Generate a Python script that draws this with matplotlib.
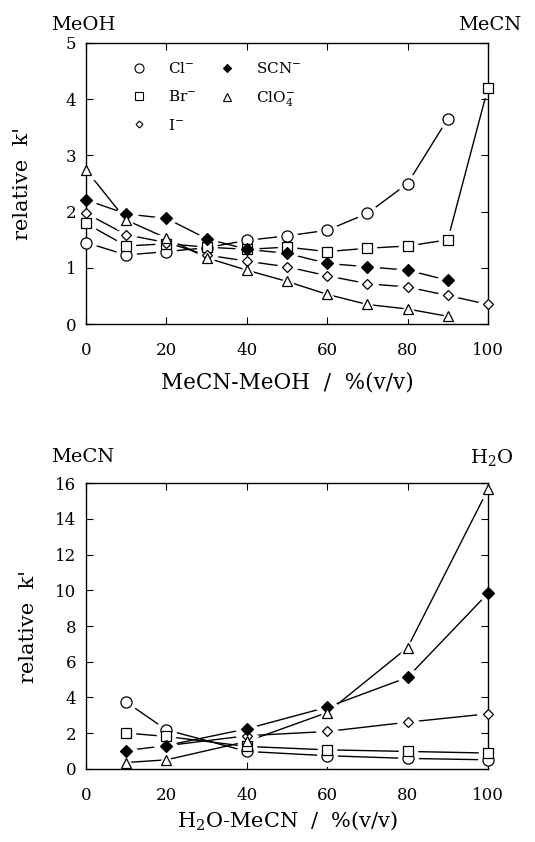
import matplotlib
matplotlib.use("Agg")
import matplotlib.pyplot as plt

plt.rcParams['font.family'] = ['DejaVu Serif']
plt.rcParams['mathtext.fontset'] = 'dejavuserif'

# MeCN-MeOH mixtures (top panel)
x_meoh = [0, 10, 20, 30, 40, 50, 60, 70, 80, 90, 100]
cl_meoh = [1.45, 1.23, 1.29, 1.36, 1.49, 1.57, 1.67, 1.97, 2.50, 3.65]
br_meoh = [1.79, 1.39, 1.43, 1.37, 1.33, 1.37, 1.29, 1.35, 1.39, 1.50, 4.20]
i_meoh = [1.97, 1.59, 1.45, 1.23, 1.12, 1.02, 0.86, 0.72, 0.66, 0.51, 0.35]
scn_meoh = [2.21, 1.96, 1.88, 1.52, 1.33, 1.26, 1.08, 1.02, 0.96, 0.78]
clo4_meoh = [2.74, 1.85, 1.53, 1.18, 0.96, 0.76, 0.53, 0.35, 0.27, 0.14]

# H2O-MeCN mixtures (bottom panel)
x_h2o = [10, 20, 40, 60, 80, 100]
cl_h2o = [3.73, 2.18, 0.97, 0.73, 0.58, 0.50]
br_h2o = [2.00, 1.81, 1.25, 1.06, 0.97, 0.88]
i_h2o = [1.29, 1.85, 2.09, 2.61, 3.08]
scn_h2o = [1.02, 1.30, 2.24, 3.45, 5.12, 9.83]
clo4_h2o = [0.35, 0.50, 1.53, 3.15, 6.79, 15.66]

labels = [r"Cl$^{-}$", r"Br$^{-}$", r"I$^{-}$", r"SCN$^{-}$", r"ClO$_4^{-}$"]
styles = [
    dict(marker='o', ms=8, mfc='white'),
    dict(marker='s', ms=7, mfc='white'),
    dict(marker='D', ms=5, mfc='white'),
    dict(marker='D', ms=6, mfc='black'),
    dict(marker='^', ms=7, mfc='white'),
]


def x_for(xs, ys):
    # the top panel series start at 0%, the bottom iodide run starts at 20%
    if len(ys) == len(xs) or xs[0] != 10:
        return xs[:len(ys)]
    return xs[-len(ys):]


def draw_panel(ax, xs, series, ymax, ystep, ylab_x):
    for ys, st in zip(series, styles):
        xx = x_for(xs, ys)
        ax.plot(xx, ys, color='black', lw=1.0, zorder=1, clip_on=False)
        # white halo so each line stops short of its markers
        ax.plot(xx, ys, ls='none', marker=st['marker'], ms=st['ms'] + 6,
                mfc='white', mec='white', zorder=2, clip_on=False)
    for ys, st in zip(series, styles):
        xx = x_for(xs, ys)
        ax.plot(xx, ys, ls='none', marker=st['marker'], ms=st['ms'],
                mfc=st['mfc'], mec='black', mew=0.9, zorder=3, clip_on=False)
    ax.set_xlim(0, 100)
    ax.set_ylim(0, ymax)
    ax.set_xticks(range(0, 101, 20))
    ax.set_yticks(range(0, ymax + 1, ystep))
    ax.tick_params(direction='in', top=True, right=True, length=5,
                   labelsize=12)
    ax.tick_params(axis='x', pad=13)
    ax.tick_params(axis='y', pad=7)
    ax.set_ylabel("relative  k'", fontsize=15)
    ax.yaxis.set_label_coords(ylab_x, 0.5)
    for sp in ax.spines.values():
        sp.set_linewidth(1.0)


fig = plt.figure(figsize=(5.35, 8.42), dpi=100)

ax1 = fig.add_axes([0.161, 0.615, 0.751, 0.334])
draw_panel(ax1, x_meoh, [cl_meoh, br_meoh, i_meoh, scn_meoh, clo4_meoh], 5, 1,
           -0.135)
ax1.set_xlabel("MeCN-MeOH  /  %(v/v)", fontsize=15.5, labelpad=9)
handles = []
for lab, st in zip(labels, styles):
    h, = ax1.plot([], [], ls='none', marker=st['marker'], ms=st['ms'] - 1.5,
                  mfc=st['mfc'], mec='black', mew=0.8, label=lab)
    handles.append(h)
ax1.legend(handles=handles, ncol=2, frameon=False, fontsize=11,
           loc='upper left', bbox_to_anchor=(0.06, 0.985), handletextpad=0.9,
           columnspacing=0.95, labelspacing=0.88)
fig.text(0.095, 0.970, "MeOH", fontsize=14, ha='left', va='center')
fig.text(0.975, 0.970, "MeCN", fontsize=14, ha='right', va='center')

ax2 = fig.add_axes([0.161, 0.087, 0.751, 0.339])
draw_panel(ax2, x_h2o, [cl_h2o, br_h2o, i_h2o, scn_h2o, clo4_h2o], 16, 2,
           -0.12)
ax2.set_xlabel(r"H$_2$O-MeCN  /  %(v/v)", fontsize=15, labelpad=4)
fig.text(0.095, 0.457, "MeCN", fontsize=14, ha='left', va='center')
fig.text(0.96, 0.457, r"H$_2$O", fontsize=14, ha='right', va='center')

fig.savefig("out.png", dpi=100)
